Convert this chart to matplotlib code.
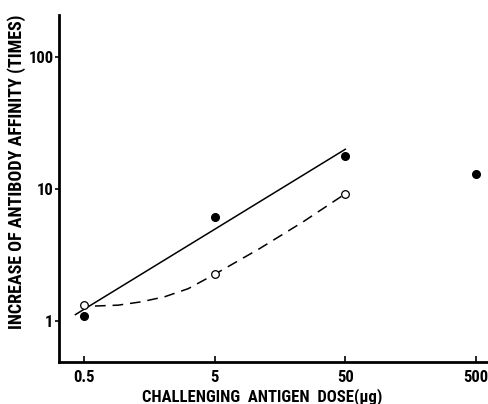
import numpy as np
import matplotlib.pyplot as plt

# antigen dose (ug) and affinity increase (times)
dose_filled = [0.5, 5, 50, 500]
affinity_filled = [1.09, 6.1, 17.9, 12.9]

dose_open = [0.5, 5, 50]
affinity_open = [1.33, 2.26, 9.2]

# fitted lines as drawn
solid_x = [0.43, 50]
solid_y = [1.12, 20]
dashed_x = [0.607, 0.915, 1.38, 2.08, 3.14, 5.0, 11.1, 23.8, 50]
dashed_y = [1.30, 1.32, 1.40, 1.53, 1.76, 2.26, 3.55, 5.65, 9.2]

xticks = [0.5, 5, 50, 500]
xtick_labels = ['0.5', '5', '50', '500']
yticks = [1, 10, 100]
ytick_labels = ['1', '10', '100']

plt.rcParams['font.family'] = ['Roboto Condensed', 'DejaVu Sans']
plt.rcParams['font.weight'] = 'bold'

fig = plt.figure(figsize=(4.89, 4.04), dpi=100)
ax = fig.add_axes([0.1207, 0.104, 0.8793, 0.859])

ax.plot(solid_x, solid_y, color='black', lw=1.1)
ax.plot(dashed_x, dashed_y, color='black', lw=1.1, dashes=(7, 4.5))
ax.plot(dose_filled, affinity_filled, 'o', color='black', ms=5.5, zorder=3)
ax.plot(dose_open, affinity_open, 'o', mfc='white', mec='black', mew=0.9,
        ms=5.5, zorder=3)

ax.set_xscale('log')
ax.set_yscale('log')
ax.set_xlim(0.322, 629)
ax.set_ylim(0.49, 208)

ax.set_xticks(xticks)
ax.set_xticklabels(xtick_labels)
ax.set_yticks(yticks)
ax.set_yticklabels(ytick_labels)
ax.minorticks_off()
ax.tick_params(axis='x', direction='in', length=4, width=1.2, labelsize=12, pad=6)
ax.tick_params(axis='y', direction='out', length=3, width=1.2, labelsize=12, pad=1)

for s in ['top', 'right']:
    ax.spines[s].set_visible(False)
for s in ['left', 'bottom']:
    ax.spines[s].set_linewidth(2)

ax.set_xlabel('CHALLENGING  ANTIGEN  DOSE(\u03bcg)', fontsize=12, fontweight='bold')
ax.xaxis.set_label_coords(0.472, -0.075)
ax.set_ylabel('INCREASE OF ANTIBODY AFFINITY (TIMES)', fontsize=13, fontweight='bold')
ax.yaxis.set_label_coords(-0.077, 0.548)

fig.savefig('out.png', dpi=100)
